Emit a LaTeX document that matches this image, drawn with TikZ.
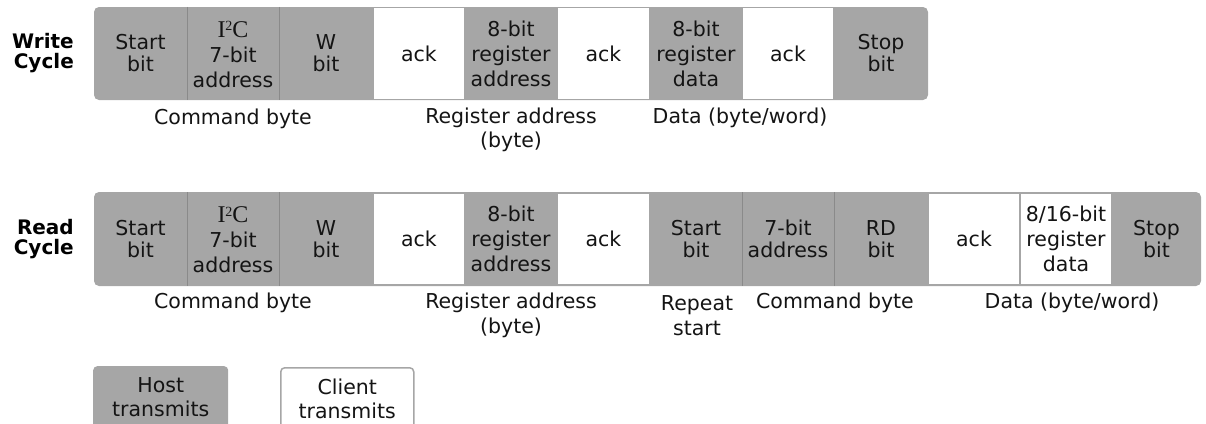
\documentclass[tikz,border=0pt]{standalone}
\usepackage{fontspec}
\setmainfont{DejaVu Sans}
\newfontfamily\serifI{Liberation Serif}
\definecolor{hostgray}{RGB}{166,166,166}
\definecolor{sepgray}{RGB}{138,138,138}
\definecolor{txt}{RGB}{20,20,20}
\tikzset{
  cellbase/.style={inner sep=0pt, align=center, text=txt, font=\fontsize{20.5}{22}\selectfont},
  gcell/.style={cellbase, minimum width=#1, minimum height=93pt},
  wcell/.style={cellbase, fill=white, minimum width=#1-2.6pt, minimum height=90.4pt},
  three/.style={font=\fontsize{20.5}{25}\selectfont},
  sepline/.style={draw=sepgray, line width=1pt},
  lbl/.style={inner sep=0pt, align=center, text=txt, font=\fontsize{20.5}{24.5}\selectfont},
  ttl/.style={inner sep=0pt, align=right, anchor=east, text=black, font=\fontsize{20}{20}\selectfont\bfseries},
  legbox/.style={cellbase, rounded corners=4pt, minimum width=135pt, minimum height=62pt, anchor=north west}
}
\newcommand{\iic}{{\serifI\fontsize{24}{24}\selectfont I\raisebox{0.62ex}{\fontsize{14}{14}\selectfont 2}C}}
\begin{document}
\begin{tikzpicture}[x=1pt,y=-1pt]
\useasboundingbox (0,0) rectangle (1206,423);
% ---------- Write cycle ----------
\node[ttl] (wt) at (74,53) {Write\\Cycle};
\fill[hostgray, rounded corners=5pt] (94,7) rectangle (928,100);
\node[gcell=93pt] (w1) at (140.5,53.5) {Start\\bit};
\node[gcell=92pt, three] (w2) at (233,54.5) {\iic\\7-bit\\address};
\node[gcell=94pt] (w3) at (326,53.5) {W\\bit};
\node[wcell=92pt] (w4) at (419,53.5) {ack};
\node[gcell=92pt, three] (w5) at (511,53.5) {8-bit\\register\\address};
\node[wcell=93pt] (w6) at (603.5,53.5) {ack};
\node[gcell=92pt, three] (w7) at (696,53.5) {8-bit\\register\\data};
\node[wcell=92pt] (w8) at (788,53.5) {ack};
\node[gcell=94pt] (w9) at (881,53.5) {Stop\\bit};
\draw[sepline] (w1.north east) -- (w1.south east);
\draw[sepline] (w2.north east) ++(0,-1) -- ++(0,93);
\node[lbl] (wl1) at (233,119) {Command byte};
\node[lbl] (wl2) at (511,130) {Register address\\(byte)};
\node[lbl] (wl3) at (740,118) {Data (byte/word)};
% ---------- Read cycle ----------
\node[ttl] (rt) at (74,239) {Read\\Cycle};
\fill[hostgray, rounded corners=5pt] (94,192) rectangle (1201,286);
\node[gcell=93pt] (r1) at (140.5,239) {Start\\bit};
\node[gcell=92pt, three] (r2) at (233,240) {\iic\\7-bit\\address};
\node[gcell=94pt] (r3) at (326,239) {W\\bit};
\node[wcell=92pt] (r4) at (419,239) {ack};
\node[gcell=92pt, three] (r5) at (511,239) {8-bit\\register\\address};
\node[wcell=93pt] (r6) at (603.5,239) {ack};
\node[gcell=92pt] (r7) at (696,239) {Start\\bit};
\node[gcell=92pt] (r8) at (788,239) {7-bit\\address};
\node[gcell=94pt] (r9) at (881,239) {RD\\bit};
\node[wcell=92pt] (r10) at (974,239) {ack};
\node[wcell=92pt, three] (r11) at (1066,239) {8/16-bit\\register\\data};
\node[gcell=89pt] (r12) at (1156.5,239) {Stop\\bit};
\draw[sepline] (r1.north east) -- (r1.south east);
\draw[sepline] (r2.north east) ++(0,-1) -- ++(0,94);
\draw[sepline] (r7.north east) -- (r7.south east);
\draw[sepline] (r8.north east) -- (r8.south east);
\node[lbl] (rl1) at (233,303) {Command byte};
\node[lbl] (rl2) at (511,315.5) {Register address\\(byte)};
\node[lbl] (rl3) at (697,315.5) {Repeat\\start};
\node[lbl] (rl4) at (835,303) {Command byte};
\node[lbl] (rl5) at (1072,303) {Data (byte/word)};
% ---------- Legend ----------
\node[legbox, fill=hostgray, font=\fontsize{20.5}{24}\selectfont] (host) at (93,366) {Host\\transmits};
\node[legbox, fill=white, draw=hostgray, line width=1.5pt, minimum width=133pt, font=\fontsize{20.5}{24}\selectfont] (client) at (280,367) {Client\\transmits};
\end{tikzpicture}
\end{document}
